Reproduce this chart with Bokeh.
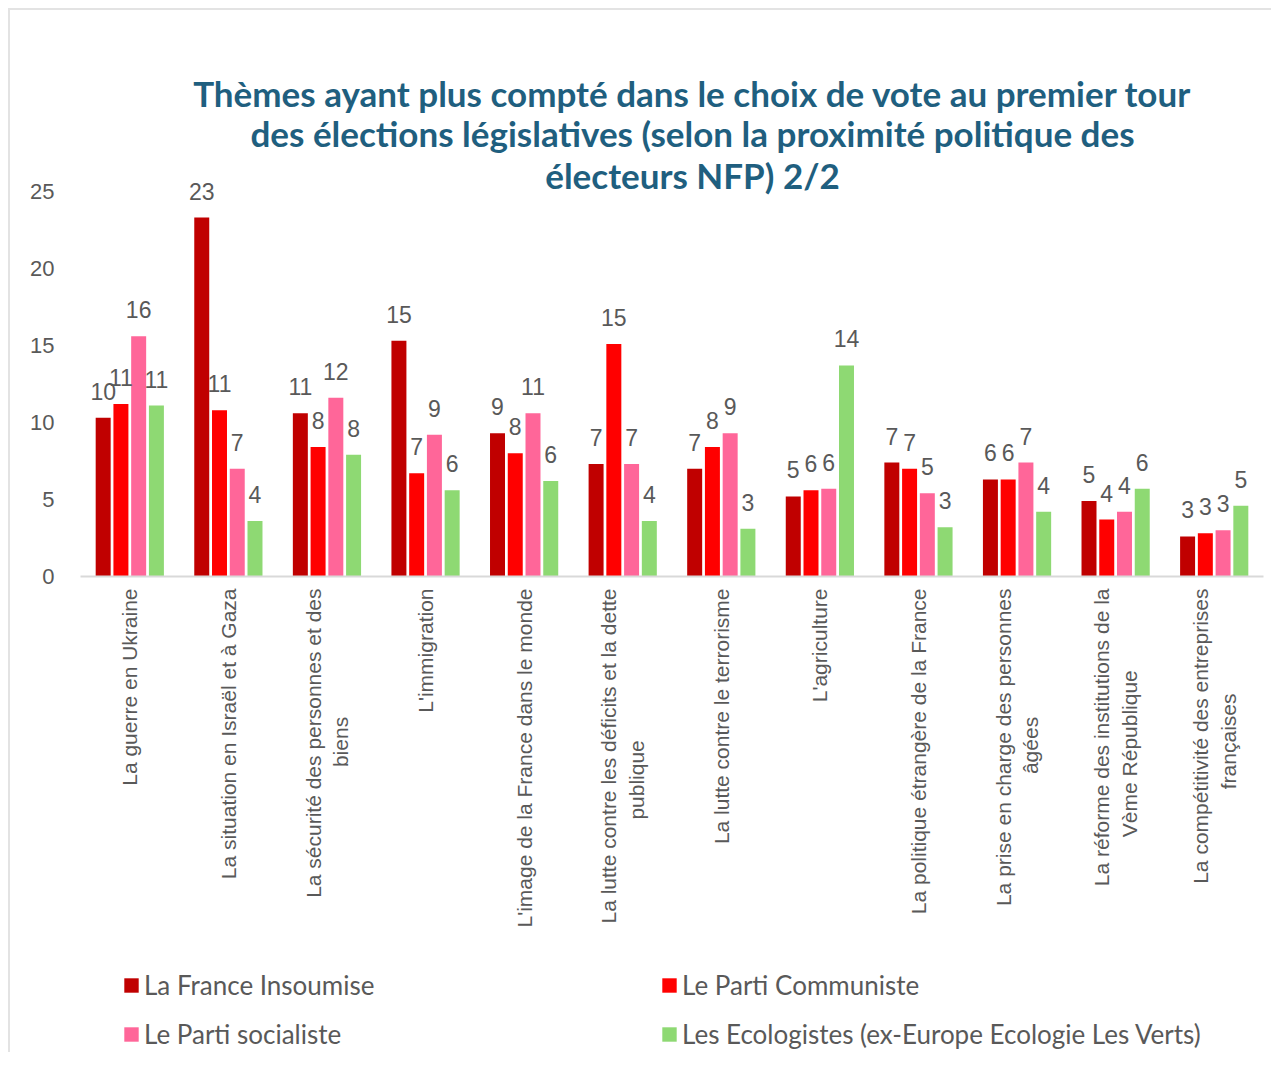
from math import pi
from bokeh.plotting import figure
from bokeh.layouts import column
from bokeh.models import (FactorRange, ColumnDataSource, Range1d, FixedTicker,
                          Legend, LegendItem, LabelSet, Label)
from bokeh.transform import dodge
from bokeh.core.properties import value
from bokeh.embed import file_html
from bokeh.resources import INLINE

themes = [
    "La guerre en Ukraine",
    "La situation en Israël et à Gaza",
    "La sécurité des personnes et des\nbiens",
    "L'immigration",
    "L'image de la France dans le monde",
    "La lutte contre les déficits et la dette\npublique",
    "La lutte contre le terrorisme",
    "L'agriculture",
    "La politique étrangère de la France",
    "La prise en charge des personnes\nâgées",
    "La réforme des institutions de la\nVème République",
    "La compétitivité des entreprises\nfrançaises",
]

lfi = [10.3, 23.3, 10.6, 15.3, 9.3, 7.3, 7.0, 5.2, 7.4, 6.3, 4.9, 2.6]
pc = [11.2, 10.8, 8.4, 6.7, 8.0, 15.1, 8.4, 5.6, 7.0, 6.3, 3.7, 2.8]
ps = [15.6, 7.0, 11.6, 9.2, 10.6, 7.3, 9.3, 5.7, 5.4, 7.4, 4.2, 3.0]
eco = [11.1, 3.6, 7.9, 5.6, 6.2, 3.6, 3.1, 13.7, 3.2, 4.2, 5.7, 4.6]

series_names = ["La France Insoumise", "Le Parti Communiste",
                "Le Parti socialiste",
                "Les Ecologistes (ex-Europe Ecologie Les Verts)"]
series_keys = ["lfi", "pc", "ps", "eco"]
colors = ["#C00000", "#FF0000", "#FF6699", "#8ED973"]
offsets = [-0.27, -0.09, 0.09, 0.27]

title_lines = [
    "Thèmes ayant plus compté dans le choix de vote au premier tour",
    "des élections législatives (selon la proximité politique des",
    "électeurs NFP) 2/2",
]
y_ticks = [0, 5, 10, 15, 20, 25]


def centered_label(t):
    # centre the second line of a wrapped label under the first one
    lines = t.split("\n")
    if len(lines) == 1:
        return t
    first, second = lines
    pad = "\u00a0" * max(0, round(0.8 * (len(first) - len(second))))
    return first + "\n" + second + pad


factors = [centered_label(t) for t in themes]

data = dict(theme=factors, lfi=lfi, pc=pc, ps=ps, eco=eco)
for k in series_keys:
    data[k + "_lbl"] = [f"{v:.0f}" for v in data[k]]
src = ColumnDataSource(data)

TFONT = "Lato"
SANS = "Liberation Sans"
GREY = "#595959"
EDGE = "#E3E3E3"
W = 1271

# frame reaches up to the title area so the value labels are never clipped;
# the y scale keeps 25 at the same height as in the original chart
p = figure(x_range=FactorRange(factors=factors, range_padding=0),
           y_range=Range1d(0, 33.5),
           width=W, height=955,
           output_backend="svg", toolbar_location=None,
           min_border_left=80, min_border_right=8,
           min_border_top=60, min_border_bottom=379)
p.styles = {"background": (
    f"linear-gradient({EDGE},{EDGE}) 8px 8px / 2px calc(100% - 8px) no-repeat, "
    f"linear-gradient({EDGE},{EDGE}) 8px 8px / calc(100% - 8px) 2px no-repeat, "
    "#ffffff")}
p.border_fill_alpha = 0

for line, sy in zip(title_lines, [484, 444, 402]):
    p.add_layout(Label(x=612, y=sy, x_units="screen", y_units="screen",
                       text=line, text_align="center",
                       text_baseline="middle",
                       text_font=TFONT, text_font_style="bold",
                       text_font_size="35px", text_color="#1F5F7F"))

p.xgrid.visible = False
p.ygrid.visible = False
p.outline_line_color = None
p.background_fill_color = "white"

p.yaxis.ticker = FixedTicker(ticks=y_ticks)
p.yaxis.axis_line_color = None
p.yaxis.major_tick_line_color = None
p.yaxis.minor_tick_line_color = None
p.yaxis.major_label_text_font = SANS
p.yaxis.major_label_text_font_size = "22px"
p.yaxis.major_label_text_color = GREY
p.yaxis.major_label_standoff = 20

p.xaxis.axis_line_color = "#D9D9D9"
p.xaxis.axis_line_width = 2
p.xaxis.major_tick_line_color = None
p.xaxis.minor_tick_line_color = None
p.xaxis.major_label_orientation = pi / 2
p.xaxis.major_label_text_font = SANS
p.xaxis.major_label_text_font_size = "21px"
p.xaxis.major_label_text_color = GREY
p.xaxis.major_label_standoff = 6

for key, col, off in zip(series_keys, colors, offsets):
    p.vbar(x=dodge("theme", off, range=p.x_range), top=key, width=0.152,
           source=src, fill_color=col, line_color=None)
    lbl = LabelSet(x=dodge("theme", off, range=p.x_range), y=key,
                   text=key + "_lbl", source=src, text_align="center",
                   text_baseline="alphabetic", y_offset=18,
                   text_font=value(SANS), text_font_size=value("23px"),
                   text_color=GREY)
    p.add_layout(lbl)

# legend strip under the chart (its frame is aligned with the chart's frame)
lf = figure(width=W, height=97, x_range=Range1d(0, 1), y_range=Range1d(0, 1),
            output_backend="svg", toolbar_location=None,
            x_axis_location=None, y_axis_location=None,
            min_border=0, min_border_left=0, min_border_right=0,
            min_border_top=0, min_border_bottom=0)
lf.styles = {"background": (
    f"linear-gradient({EDGE},{EDGE}) 8px 0 / 2px 100% no-repeat, #ffffff")}
lf.grid.visible = False
lf.outline_line_color = None
lf.border_fill_alpha = 0
lf.background_fill_alpha = 0

items = []
for name, col in zip(series_names, colors):
    # off-range swatch renderer: only its legend entry is visible
    r = lf.vbar(x=[-5], top=[-5], width=0.1, fill_color=col, line_color=None)
    items.append(LegendItem(label=name, renderers=[r]))

legend = Legend(items=items, orientation="horizontal", ncols=2,
                location=(42, 2),
                glyph_width=18, glyph_height=18, label_standoff=4,
                label_width=499, spacing=17, padding=0, margin=0,
                border_line_color=None, background_fill_alpha=0,
                label_text_font=TFONT, label_text_font_size="26px",
                label_text_color=GREY)
lf.add_layout(legend)

open("out.html", "w").write(file_html(column(p, lf, spacing=0), INLINE))
